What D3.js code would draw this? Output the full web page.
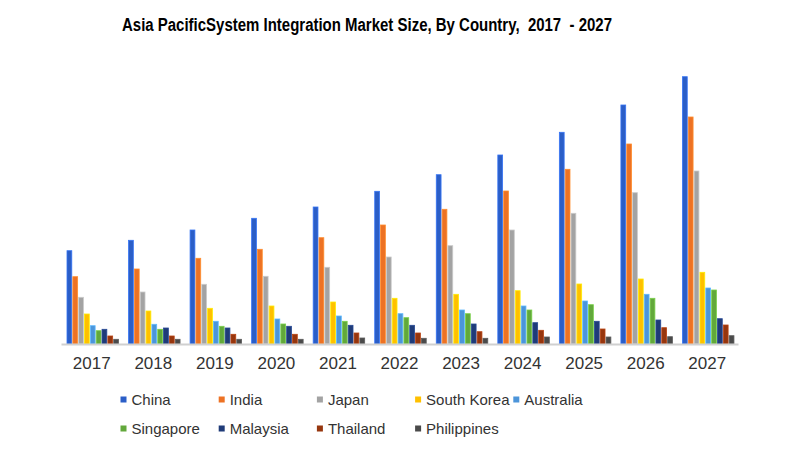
<!DOCTYPE html>
<html>
<head>
<meta charset="utf-8">
<script src="https://cdn.jsdelivr.net/npm/d3@7"></script>
<style>
  html, body { margin: 0; padding: 0; background: #fff; }
  svg { display: block; }
</style>
</head>
<body>
<svg id="chart" width="800" height="450"></svg>
<script>
const years = ["2017","2018","2019","2020","2021","2022","2023","2024","2025","2026","2027"];
const countries = ["China","India","Japan","South Korea","Australia","Singapore","Malaysia","Thailand","Philippines"];
const colors = ["#2B5EC7","#ED7224","#A3A3A3","#FFC000","#4C95DA","#62A83B","#1F3B78","#96360E","#4A4A4A"];

const china       = [93.3,103.7,114,125.7,137,152.7,169.3,189,211.7,239,267.3];
const india       = [67.3,75,85.7,94.7,106.3,119,134.7,153,174.7,200,227];
const japan       = [46.7,52,59.7,67.7,76.7,87,98.3,114,130.7,151.3,173];
const southKorea  = [30,33,35.7,38,42,45.7,49.7,53.3,60,65,71.7];
const australia   = [18.3,19.7,22.7,25,28,30.3,34,38,43,49.7,56];
const singapore   = [13.3,14.7,17.7,20,22.7,26.3,30.3,34,39.3,45.7,54];
const malaysia    = [14.7,16,16,17.7,18.7,18.7,20,21.3,22.7,24,25.3];
const thailand    = [8,8,9.7,9.7,11,11,12.3,13.7,15,16.3,19];
const philippines = [4.7,4.7,4.7,4.7,6,5.7,5.7,7,7,7.3,8.3];

const series = [china, india, japan, southKorea, australia, singapore, malaysia, thailand, philippines];

const svg = d3.select("#chart");

// Title
svg.append("text")
  .attr("x", 367).attr("y", 30.5)
  .attr("text-anchor", "middle")
  .attr("font-family", "'Liberation Sans Narrow', 'Arial Narrow', 'Liberation Sans', Arial, sans-serif")
  .attr("font-weight", "bold")
  .attr("font-size", 18)
  .attr("fill", "#000")
  .attr("textLength", 490)
  .attr("lengthAdjust", "spacingAndGlyphs")
  .style("white-space", "pre")
  .text("Asia PacificSystem Integration Market Size, By Country,  2017  - 2027");

const baseY = 344;
const x = d3.scaleBand().domain(years).range([61, 738]).paddingInner(0).paddingOuter(0);
const x1 = d3.scaleBand().domain(countries).range([6, 57.5]).paddingInner(0.18).paddingOuter(0);
const y = d3.scaleLinear().domain([0, 270]).range([baseY, baseY - 270]);

const rows = years.map((yr, i) => ({ year: yr, values: countries.map((c, k) => ({ country: c, k, v: series[k][i] })) }));

const groups = svg.append("g").selectAll("g").data(rows).join("g")
  .attr("transform", d => `translate(${x(d.year)},0)`);

groups.selectAll("rect").data(d => d.values).join("rect")
  .attr("x", d => x1(d.country))
  .attr("width", x1.bandwidth())
  .attr("y", d => y(d.v))
  .attr("height", d => y(0) - y(d.v))
  .attr("fill", d => colors[d.k])
  .attr("stroke", d => d3.color(colors[d.k]).brighter(0.6))
  .attr("stroke-width", 0.8);

// X axis
const axis = svg.append("g")
  .attr("transform", `translate(0,${baseY})`)
  .call(d3.axisBottom(x).tickSize(0).tickPadding(13));
axis.select(".domain").attr("stroke", "#D0D0D0").attr("stroke-width", 2);
axis.selectAll("text")
  .attr("font-family", "'Liberation Sans', Arial, sans-serif")
  .attr("font-size", 17)
  .attr("fill", "#333");

// Legend
const legend = svg.append("g");
const items = legend.selectAll("g").data(countries).join("g")
  .attr("transform", (d, i) => {
    const col = i < 5 ? i : i - 5;
    const row = i < 5 ? 0 : 1;
    return `translate(${120.5 + col * 98.2},${row === 0 ? 396.5 : 425.5})`;
  });
items.append("rect")
  .attr("width", 6).attr("height", 6)
  .attr("fill", (d, i) => colors[i]);
items.append("text")
  .attr("x", 11).attr("y", 8.5)
  .attr("font-family", "'Liberation Sans', Arial, sans-serif")
  .attr("font-size", 15)
  .attr("fill", "#333")
  .text(d => d);
</script>
</body>
</html>
